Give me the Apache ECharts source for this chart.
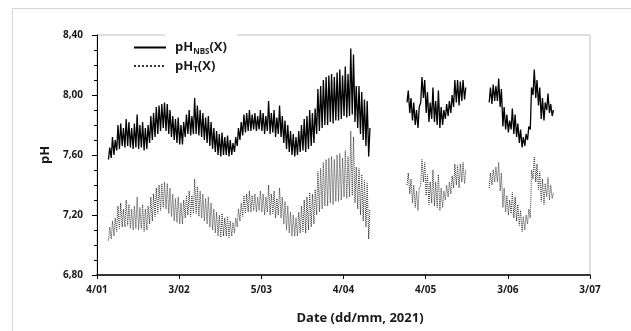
<!DOCTYPE html>
<html>
<head>
<meta charset="utf-8">
<script src="https://cdn.jsdelivr.net/npm/echarts@6/dist/echarts.min.js"></script>
<style>
html,body{margin:0;padding:0;background:#fff;}
#chart{width:631px;height:331px;}
</style>
</head>
<body>
<div id="chart"></div>
<script>
// x values are days since 4 Jan 2021
const xTickLabels = ['4/01','3/02','5/03','4/04','4/05','3/06','3/07'];
const yTickLabels = ['6,80','7,20','7,60','8,00','8,40'];
const seriesNames = ['pH_NBS(X)', 'pH_T(X)'];

// Segment 1: daily highs / lows starting 8 Jan (day 4)
const seg1Start = 4;
const nbs1Hi = [
  7.65,7.72,7.70,7.80,7.81,7.78,7.84,7.82,7.78,7.81,
  7.87,7.80,7.82,7.78,7.80,7.86,7.88,7.92,7.93,7.94,
  7.95,7.94,7.90,7.86,7.84,7.85,7.80,7.82,7.87,7.90,
  7.86,7.98,7.93,7.90,7.88,7.85,7.86,7.82,7.78,7.76,
  7.74,7.75,7.72,7.73,7.70,7.68,7.72,7.78,7.82,7.87,
  7.88,7.90,7.87,7.88,7.86,7.90,7.88,7.86,7.96,7.88,
  7.90,7.85,7.93,7.86,7.83,7.80,7.76,7.74,7.72,7.76,
  7.80,7.84,7.86,7.90,7.88,7.91,8.04,8.06,8.10,8.12,
  8.13,8.14,8.12,8.15,8.17,8.13,8.19,8.14,8.31,8.27,
  8.06,8.06,8.02,7.97,7.96,7.78];
const nbs1Lo = [
  7.57,7.58,7.60,7.63,7.64,7.66,7.65,7.66,7.65,7.64,
  7.65,7.64,7.65,7.63,7.64,7.68,7.70,7.72,7.74,7.76,
  7.78,7.76,7.74,7.72,7.70,7.68,7.67,7.67,7.72,7.74,
  7.73,7.74,7.74,7.73,7.72,7.70,7.68,7.66,7.64,7.62,
  7.60,7.59,7.60,7.60,7.59,7.60,7.62,7.66,7.70,7.73,
  7.75,7.76,7.76,7.77,7.76,7.77,7.76,7.74,7.76,7.74,
  7.75,7.72,7.74,7.72,7.68,7.64,7.62,7.60,7.59,7.60,
  7.62,7.63,7.62,7.64,7.66,7.68,7.74,7.76,7.78,7.80,
  7.80,7.82,7.81,7.83,7.83,7.84,7.86,7.85,7.86,7.87,
  7.82,7.78,7.74,7.70,7.66,7.59];
const t1Hi = [
  7.12,7.16,7.18,7.26,7.28,7.24,7.30,7.27,7.24,7.26,
  7.32,7.25,7.27,7.24,7.26,7.32,7.34,7.38,7.40,7.41,
  7.42,7.41,7.38,7.34,7.31,7.32,7.28,7.30,7.33,7.36,
  7.33,7.44,7.39,7.36,7.34,7.31,7.32,7.28,7.24,7.22,
  7.20,7.21,7.18,7.19,7.16,7.15,7.18,7.24,7.28,7.33,
  7.34,7.36,7.33,7.34,7.32,7.36,7.34,7.32,7.40,7.34,
  7.36,7.31,7.38,7.32,7.29,7.26,7.22,7.20,7.18,7.22,
  7.26,7.30,7.32,7.35,7.34,7.37,7.49,7.51,7.55,7.57,
  7.58,7.59,7.57,7.60,7.61,7.58,7.63,7.59,7.76,7.72,
  7.52,7.51,7.47,7.43,7.41,7.24];
const t1Lo = [
  7.03,7.04,7.06,7.09,7.11,7.12,7.12,7.13,7.11,7.10,
  7.11,7.10,7.11,7.09,7.10,7.14,7.16,7.19,7.21,7.23,
  7.25,7.24,7.21,7.19,7.16,7.15,7.14,7.14,7.18,7.20,
  7.19,7.21,7.21,7.19,7.18,7.16,7.14,7.12,7.10,7.08,
  7.06,7.05,7.06,7.06,7.05,7.06,7.08,7.12,7.16,7.19,
  7.21,7.22,7.22,7.23,7.22,7.23,7.22,7.20,7.22,7.20,
  7.21,7.18,7.20,7.18,7.14,7.10,7.08,7.06,7.06,7.06,
  7.08,7.09,7.08,7.10,7.12,7.14,7.20,7.22,7.24,7.26,
  7.26,7.28,7.27,7.29,7.29,7.30,7.32,7.31,7.32,7.33,
  7.28,7.24,7.20,7.16,7.12,7.04];

// Segment 2: starting 27 Apr (day 113)
const seg2Start = 113;
const nbs2Hi = [8.03,7.98,7.95,7.90,7.92,8.12,8.10,8.02,7.95,8.05,7.96,8.03,7.92,7.90,7.94,7.96,8.00,8.10,8.10,8.09,8.10,8.05];
const nbs2Lo = [7.95,7.88,7.83,7.80,7.78,7.95,7.98,7.88,7.82,7.84,7.82,7.80,7.78,7.80,7.84,7.86,7.88,7.92,7.95,7.93,7.96,7.97];
const t2Hi = [7.48,7.44,7.40,7.36,7.38,7.57,7.55,7.47,7.42,7.50,7.42,7.47,7.38,7.36,7.40,7.42,7.46,7.54,7.53,7.54,7.55,7.50];
const t2Lo = [7.40,7.34,7.28,7.25,7.23,7.40,7.42,7.33,7.27,7.28,7.26,7.25,7.23,7.25,7.30,7.32,7.34,7.38,7.40,7.38,7.42,7.41];

// Segment 3: starting 27 May (day 143)
const seg3Start = 143;
const nbs3Hi = [8.05,8.07,8.06,8.11,8.04,7.92,7.87,7.83,7.91,7.87,7.81,7.77,7.72,7.74,7.79,8.05,8.17,8.10,8.05,7.98,7.95,8.01,7.94,7.90];
const nbs3Lo = [7.95,7.94,7.96,7.96,7.92,7.79,7.77,7.75,7.77,7.74,7.72,7.68,7.65,7.66,7.70,7.77,8.00,7.98,7.93,7.84,7.83,7.90,7.88,7.86];
const t3Hi = [7.48,7.50,7.52,7.55,7.48,7.38,7.33,7.30,7.35,7.32,7.27,7.23,7.19,7.20,7.24,7.50,7.59,7.54,7.49,7.44,7.41,7.45,7.40,7.35];
const t3Lo = [7.38,7.40,7.42,7.42,7.36,7.25,7.22,7.20,7.21,7.18,7.16,7.13,7.09,7.10,7.14,7.18,7.44,7.42,7.37,7.29,7.27,7.32,7.30,7.31];

function build(segs) {
  const out = [];
  segs.forEach(function (s, k) {
    if (k > 0) out.push([s.start - 1, null]);
    for (let i = 0; i < s.hi.length; i++) {
      out.push([s.start + i + 0.2, s.lo[i]]);
      out.push([s.start + i + 0.65, s.hi[i]]);
    }
  });
  return out;
}

const nbsData = build([
  {start: seg1Start, hi: nbs1Hi, lo: nbs1Lo},
  {start: seg2Start, hi: nbs2Hi, lo: nbs2Lo},
  {start: seg3Start, hi: nbs3Hi, lo: nbs3Lo}
]);
const tData = build([
  {start: seg1Start, hi: t1Hi, lo: t1Lo},
  {start: seg2Start, hi: t2Hi, lo: t2Lo},
  {start: seg3Start, hi: t3Hi, lo: t3Lo}
]);

const FONT = 'Open Sans';
const chart = echarts.init(document.getElementById('chart'), null, {renderer: 'canvas'});
chart.setOption({
  animation: false,
  backgroundColor: '#ffffff',
  grid: {left: 97, right: 41, top: 35, bottom: 56, show: true, borderColor: '#bfbfbf', borderWidth: 1, backgroundColor: 'transparent'},
  xAxis: {
    type: 'value', min: 0, max: 180, interval: 30,
    axisLine: {show: true, onZero: false, lineStyle: {color: '#000', width: 1.5}},
    axisTick: {show: true, length: 4, lineStyle: {color: '#000'}},
    splitLine: {show: false},
    axisLabel: {
      margin: 10, fontFamily: FONT, fontWeight: 'bold', fontSize: 10, color: '#1a1a1a',
      formatter: function (v) { return xTickLabels[Math.round(v / 30)]; }
    }
  },
  yAxis: {
    type: 'value', min: 6.8, max: 8.4, interval: 0.4,
    name: 'pH', nameLocation: 'middle', nameGap: 45,
    nameTextStyle: {fontFamily: FONT, fontWeight: 'bold', fontSize: 13, color: '#1a1a1a'},
    axisLine: {show: true, onZero: false, lineStyle: {color: '#000', width: 1}},
    axisTick: {show: true, length: 5, lineStyle: {color: '#000'}},
    minorTick: {show: true, splitNumber: 4, length: 3, lineStyle: {color: '#000'}},
    splitLine: {show: false},
    axisLabel: {
      margin: 14, fontFamily: FONT, fontWeight: 'bold', fontSize: 10, color: '#1a1a1a',
      formatter: function (v) { return yTickLabels[Math.round((v - 6.8) / 0.4)]; }
    }
  },
  legend: {
    orient: 'vertical', left: 133, top: 41, itemWidth: 32, itemHeight: 10, itemGap: 4,
    padding: 0,
    data: seriesNames,
    itemStyle: {opacity: 0, borderWidth: 0},
    formatter: function (name) {
      const parts = name.split('_');
      const sub = parts[1].replace('(X)', '');
      return '{b|' + parts[0] + '}{s|' + sub + '}{b|(X)}';
    },
    textStyle: {
      padding: [0, 0, 0, 4],
      rich: {
        b: {fontFamily: FONT, fontWeight: 'bold', fontSize: 13, color: '#1a1a1a', lineHeight: 16},
        s: {fontFamily: FONT, fontWeight: 'bold', fontSize: 8, color: '#1a1a1a', lineHeight: 10, verticalAlign: 'bottom'}
      }
    }
  },
  graphic: [
    {type: 'rect', z: 100, silent: true, shape: {x: 165, y: 32, width: 72, height: 6}, style: {fill: '#fff'}},
    {type: 'rect', z: -10, silent: true, shape: {x: 12.5, y: 8.5, width: 700, height: 400}, style: {fill: 'none', stroke: '#d4d4d4', lineWidth: 1}},
    {type: 'text', z: 100, silent: true, position: [360, 318],
     style: {text: 'Date (dd/mm, 2021)', x: 0, y: 0, textAlign: 'center', textVerticalAlign: 'middle', font: 'bold 13px "Open Sans"', fill: '#1a1a1a'}}
  ],
  series: [
    {
      name: seriesNames[0], type: 'line', data: nbsData, symbol: 'none', connectNulls: false,
      lineStyle: {color: '#000', width: 1.3, type: 'solid'}, itemStyle: {color: '#000'}, z: 3
    },
    {
      name: seriesNames[1], type: 'line', data: tData, symbol: 'none', connectNulls: false,
      lineStyle: {color: '#333', width: 1, type: 'dotted'}, itemStyle: {color: '#333'}, z: 2
    }
  ]
});
</script>
</body>
</html>
